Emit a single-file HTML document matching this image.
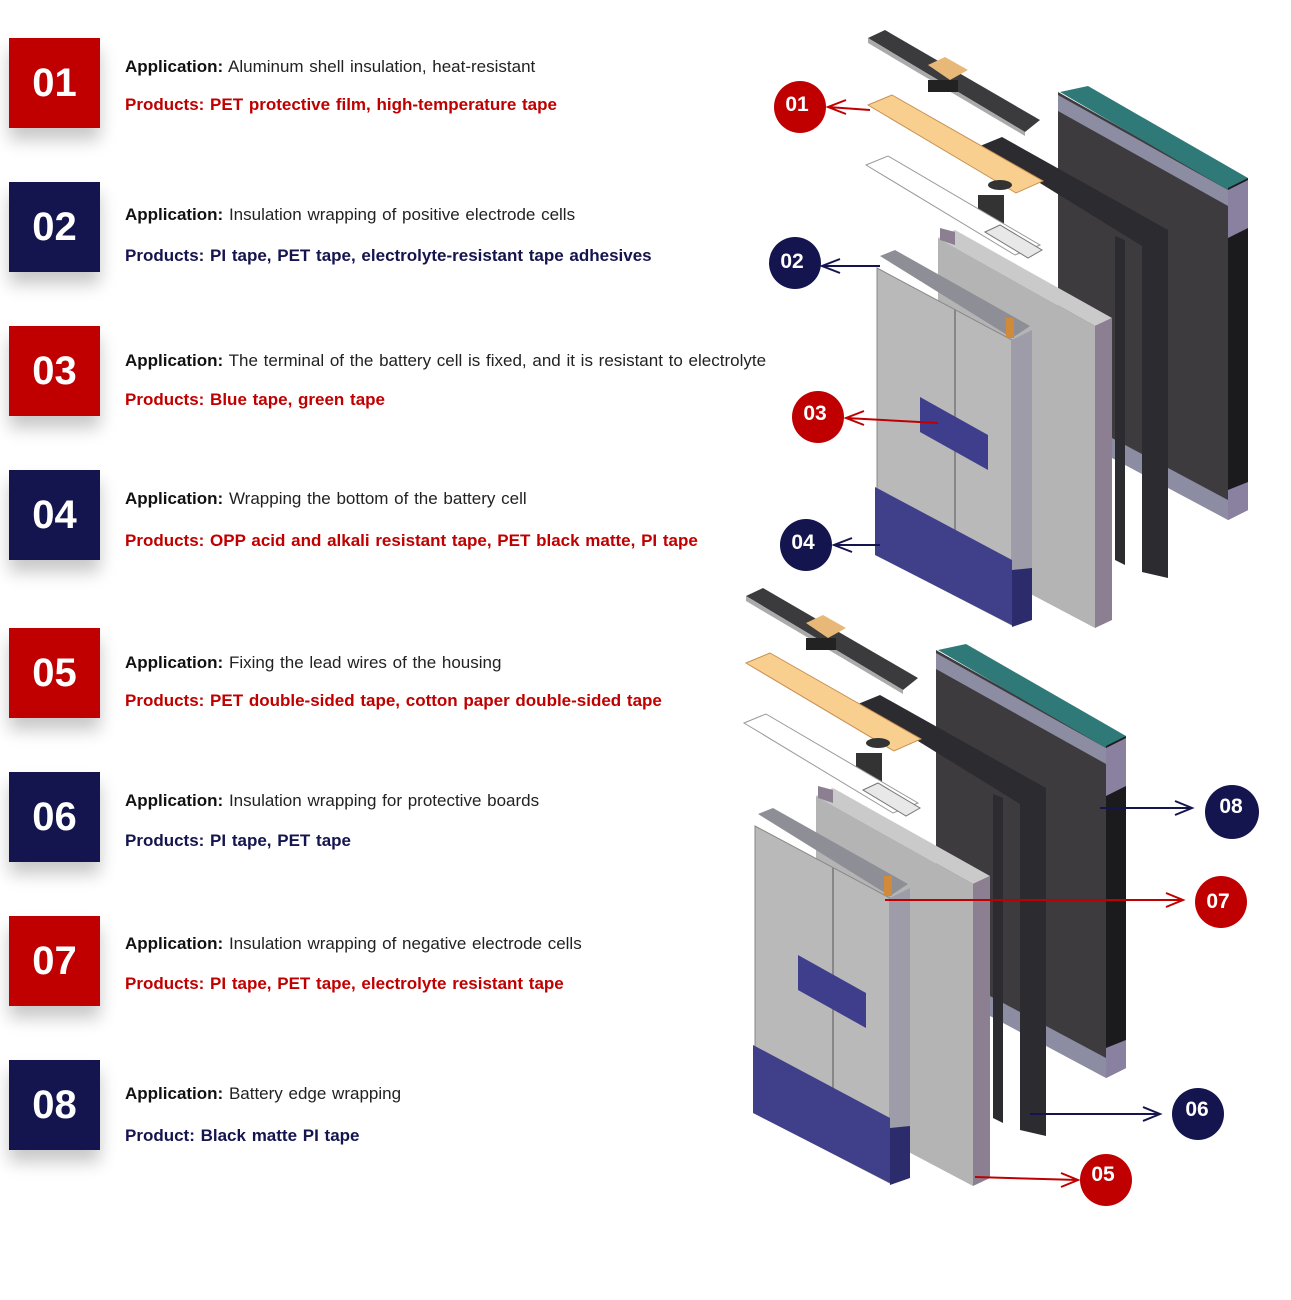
<!DOCTYPE html>
<html><head><meta charset="utf-8"><style>
body{margin:0;width:1291px;height:1300px;background:#fff;position:relative;overflow:hidden;font-family:"Liberation Sans","DejaVu Sans",sans-serif}
.b{position:absolute;left:9px;width:91px;height:90px;color:#fff;font-weight:bold;font-size:40px;line-height:90px;text-align:center;box-shadow:0 12px 16px rgba(0,0,0,.22)}
.r{background:#c00000}.n{background:#14144e}
.t{position:absolute;left:125px;font-size:17px;line-height:20px;white-space:nowrap;word-spacing:1px;color:#222}
.t b{color:#111}
.pr{color:#c00000;font-weight:bold}.pn{color:#14144e;font-weight:bold}
svg{position:absolute;left:0;top:0}
</style></head><body>
<div class="b r" style="top:38px">01</div>
<div class="t" style="top:57px"><b>Application:</b> Aluminum shell insulation, heat-resistant</div>
<div class="t pr" style="top:95px">Products: PET protective film, high-temperature tape</div>
<div class="b n" style="top:182px">02</div>
<div class="t" style="top:205px"><b>Application:</b> Insulation wrapping of positive electrode cells</div>
<div class="t pn" style="top:246px">Products: PI tape, PET tape, electrolyte-resistant tape adhesives</div>
<div class="b r" style="top:326px">03</div>
<div class="t" style="top:351px"><b>Application:</b> The terminal of the battery cell is fixed, and it is resistant to electrolyte</div>
<div class="t pr" style="top:390px">Products: Blue tape, green tape</div>
<div class="b n" style="top:470px">04</div>
<div class="t" style="top:489px"><b>Application:</b> Wrapping the bottom of the battery cell</div>
<div class="t pr" style="top:531px">Products: OPP acid and alkali resistant tape, PET black matte, PI tape</div>
<div class="b r" style="top:628px">05</div>
<div class="t" style="top:653px"><b>Application:</b> Fixing the lead wires of the housing</div>
<div class="t pr" style="top:691px">Products: PET double-sided tape, cotton paper double-sided tape</div>
<div class="b n" style="top:772px">06</div>
<div class="t" style="top:791px"><b>Application:</b> Insulation wrapping for protective boards</div>
<div class="t pn" style="top:831px">Products: PI tape, PET tape</div>
<div class="b r" style="top:916px">07</div>
<div class="t" style="top:934px"><b>Application:</b> Insulation wrapping of negative electrode cells</div>
<div class="t pr" style="top:974px">Products: PI tape, PET tape, electrolyte resistant tape</div>
<div class="b n" style="top:1060px">08</div>
<div class="t" style="top:1084px"><b>Application:</b> Battery edge wrapping</div>
<div class="t pn" style="top:1126px">Product: Black matte PI tape</div>

<svg width="1291" height="1300" viewBox="0 0 1291 1300">
<defs>
<g id="bat">
 <polygon points="1058,92 1228,188 1228,512 1058,418" fill="#3d3b3e"/>
 <polygon points="1058,95 1228,190 1228,206 1058,111" fill="#8c8ca2"/>
 <polygon points="1060,92 1088,86 1248,178 1228,190" fill="#2f7a78"/>
 <polygon points="1228,188 1248,178 1248,510 1228,520" fill="#1b1a1c"/>
 <polygon points="1228,190 1248,180 1248,228 1228,238" fill="#8a80a0"/>
 <polygon points="1228,490 1248,482 1248,510 1228,520" fill="#8a80a0"/>
 <polygon points="1112,438 1228,500 1228,520 1112,458" fill="#8c8ca2"/>
 <polygon points="980,146 1002,137 1168,230 1168,578 1142,572 1142,246" fill="#2c2c30"/>
 <polygon points="1115,236 1125,240 1125,565 1115,560" fill="#2c2c30"/>
 <polygon points="1125,520 1140,528 1140,565 1125,558" fill="#fff"/>
 <polygon points="938,238 1095,326 1095,628 938,545" fill="#b4b4b4"/>
 <polygon points="938,238 955,230 1112,318 1095,326" fill="#cacaca"/>
 <polygon points="1095,326 1112,318 1112,620 1095,628" fill="#8c7f92"/>
 <polygon points="940,228 955,232 955,245 940,240" fill="#8c7f92"/>
 <polygon points="877,268 1012,340 1012,625 877,555" fill="#b9b9b9" stroke="#888" stroke-width="1"/>
 <polygon points="880,256 895,250 1030,326 1012,338" fill="#8e8e96"/>
 <line x1="955" y1="310" x2="955" y2="590" stroke="#777" stroke-width="1.5"/>
 <polygon points="1012,340 1032,330 1032,618 1012,625" fill="#9e9ca8"/>
 <polygon points="875,487 1012,560 1012,625 875,555" fill="#3f3f8a"/>
 <polygon points="1012,570 1032,568 1032,620 1012,627" fill="#2c2c6c"/>
 <rect x="1006" y="318" width="8" height="20" fill="#d08a3a"/>
 <polygon points="920,397 988,435 988,470 920,432" fill="#3e3e8c"/>
 <polygon points="868,38 885,30 1040,120 1025,132" fill="#3b3b3d"/>
 <polygon points="868,38 1025,132 1025,136 868,43" fill="#aaa"/>
 <rect x="928" y="80" width="30" height="12" fill="#222"/>
 <polygon points="928,65 945,57 968,70 950,80" fill="#e8b878"/>
 <polygon points="868,105 892,95 1043,181 1016,193" fill="#f9cf90" stroke="#c89050"/>
 <ellipse cx="1000" cy="185" rx="12" ry="5" fill="#333"/>
 <rect x="978" y="195" width="26" height="38" fill="#333"/>
 <polygon points="866,165 888,156 1040,245 1015,255" fill="#fff" stroke="#999"/>
 <polygon points="985,232 1000,225 1042,250 1028,258" fill="#e8e8e8" stroke="#777"/>
</g>
</defs>
<use href="#bat"/>
<use href="#bat" transform="translate(-122,558)"/>

<g font-family="Liberation Sans, sans-serif" font-weight="bold" font-size="21" fill="#fff" text-anchor="middle">
 <g fill="none" stroke-width="2">
  <path d="M828,107 L870,110 M846,100 L828,107 L846,114" stroke="#c00000"/>
  <path d="M822,266 L880,266 M840,259 L822,266 L840,273" stroke="#14144e"/>
  <path d="M846,418 L938,423 M864,411 L846,418 L864,425" stroke="#c00000"/>
  <path d="M834,545 L880,545 M852,538 L834,545 L852,552" stroke="#14144e"/>
  <path d="M1100,808 L1192,808 M1175,801 L1192,808 L1175,815" stroke="#14144e"/>
  <path d="M885,900 L1183,900 M1166,893 L1183,900 L1166,907" stroke="#c00000"/>
  <path d="M1030,1114 L1160,1114 M1143,1107 L1160,1114 L1143,1121" stroke="#14144e"/>
  <path d="M975,1177 L1078,1180 M1061,1173 L1078,1180 L1061,1187" stroke="#c00000"/>
 </g>
 <circle cx="800" cy="107" r="26" fill="#c00000"/><text x="797" y="111">01</text>
 <circle cx="795" cy="263" r="26" fill="#14144e"/><text x="792" y="268">02</text>
 <circle cx="818" cy="417" r="26" fill="#c00000"/><text x="815" y="420">03</text>
 <circle cx="806" cy="545" r="26" fill="#14144e"/><text x="803" y="549">04</text>
 <circle cx="1232" cy="812" r="27" fill="#14144e"/><text x="1231" y="813">08</text>
 <circle cx="1221" cy="902" r="26" fill="#c00000"/><text x="1218" y="908">07</text>
 <circle cx="1198" cy="1114" r="26" fill="#14144e"/><text x="1197" y="1116">06</text>
 <circle cx="1106" cy="1180" r="26" fill="#c00000"/><text x="1103" y="1181">05</text>
</g>
</svg>
</body></html>
